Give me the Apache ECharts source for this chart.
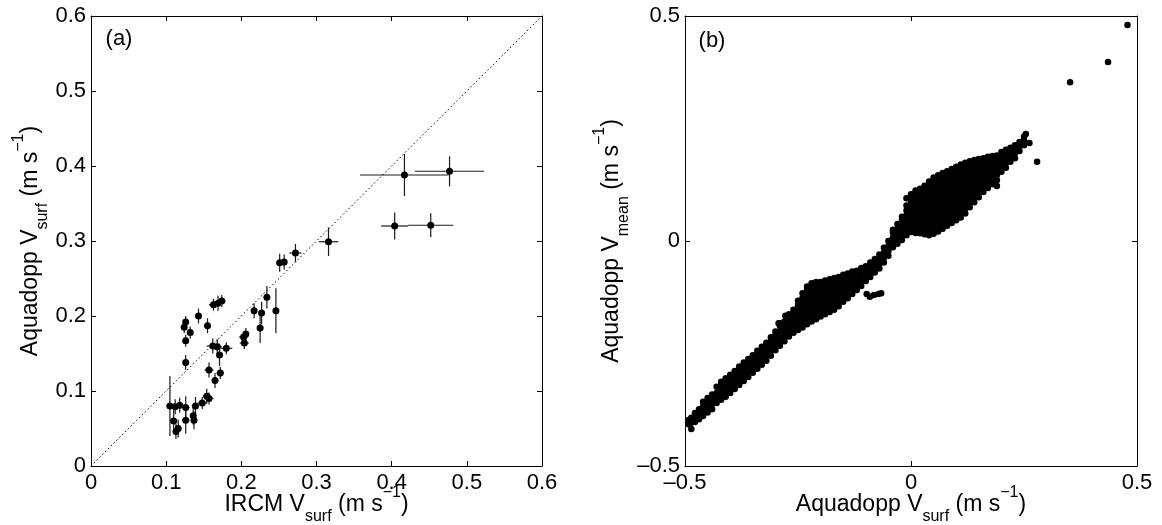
<!DOCTYPE html>
<html><head><meta charset="utf-8">
<script src="https://cdn.jsdelivr.net/npm/echarts@6/dist/echarts.min.js"></script>
<style>html,body{margin:0;padding:0;background:#fff}#c{width:1162px;height:525px}</style>
</head><body><div id="c"></div>
<script>
// ---------- Panel (a): IRCM vs Aquadopp surface velocity with error bars ----------
const ircmSurf = [0.105,0.112,0.118,0.126,0.139,0.148,0.154,0.157,0.110,0.126,0.136,0.137,0.116,0.113,
  0.165,0.157,0.172,0.171,0.162,0.168,0.180,0.204,0.203,0.206,0.126,0.126,0.132,0.124,0.126,0.143,0.155,
  0.163,0.169,0.174,0.217,0.227,0.225,0.246,0.234,0.251,0.257,0.272,0.316,0.404,0.452,0.417,0.477];
const aquaSurf = [0.080,0.079,0.081,0.078,0.080,0.084,0.093,0.090,0.060,0.061,0.067,0.061,0.050,0.046,
  0.114,0.128,0.124,0.148,0.160,0.159,0.157,0.164,0.172,0.176,0.138,0.167,0.178,0.185,0.192,0.200,0.187,
  0.215,0.217,0.220,0.207,0.204,0.184,0.207,0.225,0.271,0.272,0.284,0.299,0.320,0.321,0.388,0.393];
const ircmErr = [0.005,0.006,0.006,0.005,0.005,0.006,0.005,0.006,0.004,0.005,0.004,0.004,0.004,0.004,
  0.004,0.006,0.005,0.004,0.008,0.006,0.008,0.006,0.006,0.004,0.003,0.003,0.003,0.003,0.003,0.003,0.004,
  0.006,0.006,0.005,0.004,0.004,0.004,0.003,0.004,0.004,0.004,0.008,0.013,0.018,0.030,0.059,0.046];
const aquaErr = [0.040,0.010,0.010,0.015,0.012,0.008,0.010,0.008,0.015,0.018,0.012,0.012,0.012,0.010,
  0.010,0.010,0.008,0.015,0.010,0.010,0.008,0.008,0.006,0.008,0.010,0.008,0.008,0.008,0.008,0.010,0.010,
  0.008,0.010,0.008,0.010,0.015,0.020,0.030,0.015,0.012,0.010,0.012,0.019,0.018,0.016,0.028,0.020];
const oneToOne = [[0,0],[0.6,0.6]];
const ticksA = [0,0.1,0.2,0.3,0.4,0.5,0.6];

const vsurfCols = [-0.492,-0.486,-0.478,-0.469,-0.460,-0.450,-0.440,-0.430,-0.420,-0.410,-0.400,-0.390,-0.380,
  -0.370,-0.360,-0.350,-0.340,-0.330,-0.320,-0.310,-0.300,-0.290,-0.280,-0.270,-0.260,-0.250,-0.240,-0.230,
  -0.220,-0.210,-0.200,-0.190,-0.180,-0.170,-0.160,-0.150,-0.140,-0.130,-0.120,-0.110,-0.100,-0.090,-0.080,
  -0.070,-0.060,-0.050,-0.040,-0.030,-0.020,-0.010,0.000,0.010,0.020,0.030,0.040,0.050,0.060,0.070,0.080,
  0.090,0.100,0.110,0.120,0.130,0.140,0.150,0.160,0.170,0.180,0.190,0.200,0.210,0.220,0.230,0.240,0.250];
const vmeanCols = [
  [-0.407,-0.398],
  [-0.418,-0.404,-0.393],
  [-0.402,-0.392,-0.382],
  [-0.396,-0.385,-0.374],
  [-0.389,-0.378,-0.367,-0.357],
  [-0.381,-0.370,-0.359,-0.349],
  [-0.374,-0.363,-0.352,-0.341],
  [-0.360,-0.349,-0.338,-0.324],
  [-0.353,-0.342,-0.331,-0.320,-0.313],
  [-0.346,-0.335,-0.324,-0.313,-0.305],
  [-0.338,-0.327,-0.316,-0.305,-0.297],
  [-0.329,-0.318,-0.307,-0.296,-0.289],
  [-0.320,-0.309,-0.298,-0.287,-0.279],
  [-0.311,-0.300,-0.289,-0.278,-0.270],
  [-0.302,-0.291,-0.280,-0.269,-0.262],
  [-0.293,-0.282,-0.271,-0.260,-0.254],
  [-0.284,-0.273,-0.262,-0.251,-0.244],
  [-0.275,-0.264,-0.253,-0.242,-0.235],
  [-0.266,-0.255,-0.244,-0.233,-0.226],
  [-0.255,-0.244,-0.233,-0.222,-0.214],
  [-0.243,-0.232,-0.221,-0.210,-0.201],
  [-0.233,-0.222,-0.211,-0.200,-0.189,-0.183],
  [-0.223,-0.212,-0.201,-0.190,-0.179],
  [-0.212,-0.201,-0.190,-0.179,-0.168,-0.163],
  [-0.204,-0.193,-0.182,-0.171,-0.160,-0.153],
  [-0.198,-0.187,-0.176,-0.165,-0.154,-0.143,-0.133],
  [-0.192,-0.181,-0.170,-0.159,-0.148,-0.137,-0.126,-0.116],
  [-0.185,-0.174,-0.163,-0.152,-0.141,-0.130,-0.119,-0.108,-0.101],
  [-0.179,-0.168,-0.157,-0.146,-0.135,-0.124,-0.113,-0.102,-0.094],
  [-0.174,-0.163,-0.152,-0.141,-0.130,-0.119,-0.108,-0.097,-0.091],
  [-0.168,-0.157,-0.146,-0.135,-0.124,-0.113,-0.102,-0.091],
  [-0.163,-0.152,-0.141,-0.130,-0.119,-0.108,-0.097,-0.088],
  [-0.158,-0.147,-0.136,-0.125,-0.114,-0.103,-0.092,-0.085],
  [-0.153,-0.142,-0.131,-0.120,-0.109,-0.098,-0.088,-0.082],
  [-0.145,-0.134,-0.123,-0.112,-0.101,-0.090,-0.080],
  [-0.135,-0.124,-0.113,-0.102,-0.091,-0.082,-0.075],
  [-0.127,-0.116,-0.105,-0.094,-0.083,-0.072],
  [-0.118,-0.107,-0.096,-0.085,-0.075,-0.068],
  [-0.109,-0.098,-0.087,-0.076,-0.066],
  [-0.100,-0.089,-0.078,-0.067,-0.060],
  [-0.089,-0.078,-0.067,-0.056],
  [-0.080,-0.069,-0.058,-0.048],
  [-0.070,-0.059,-0.048,-0.040],
  [-0.061,-0.050,-0.039,-0.030],
  [-0.048,-0.037,-0.026,-0.015],
  [-0.033,-0.022,-0.011,0.000],
  [-0.014,-0.003,0.008,0.019,0.025],
  [-0.006,0.005,0.016,0.027,0.038],
  [0.002,0.013,0.024,0.035,0.046,0.054],
  [0.013,0.024,0.035,0.046,0.057,0.068,0.079,0.095],
  [0.020,0.031,0.042,0.053,0.064,0.075,0.086,0.097,0.104],
  [0.018,0.029,0.040,0.051,0.062,0.073,0.084,0.095,0.106,0.112],
  [0.017,0.028,0.039,0.050,0.061,0.072,0.083,0.094,0.105,0.116],
  [0.015,0.026,0.037,0.048,0.059,0.070,0.081,0.092,0.103,0.114,0.123],
  [0.013,0.024,0.035,0.046,0.057,0.068,0.079,0.090,0.101,0.112,0.123,0.132],
  [0.016,0.027,0.038,0.049,0.060,0.071,0.082,0.093,0.104,0.115,0.126,0.137,0.141],
  [0.021,0.032,0.043,0.054,0.065,0.076,0.087,0.098,0.109,0.120,0.131,0.142,0.146],
  [0.027,0.038,0.049,0.060,0.071,0.082,0.093,0.104,0.115,0.126,0.137,0.148,0.151],
  [0.034,0.045,0.056,0.067,0.078,0.089,0.100,0.111,0.122,0.133,0.144,0.155],
  [0.040,0.051,0.062,0.073,0.084,0.095,0.106,0.117,0.128,0.139,0.150,0.160],
  [0.046,0.057,0.068,0.079,0.090,0.101,0.112,0.123,0.134,0.145,0.156,0.165],
  [0.052,0.063,0.074,0.085,0.096,0.107,0.118,0.129,0.140,0.151,0.162,0.170],
  [0.061,0.072,0.083,0.094,0.105,0.116,0.127,0.138,0.149,0.160,0.171,0.174],
  [0.075,0.086,0.097,0.108,0.119,0.130,0.141,0.152,0.163,0.174,0.177],
  [0.086,0.097,0.108,0.119,0.130,0.141,0.152,0.163,0.174,0.180],
  [0.097,0.108,0.119,0.130,0.141,0.152,0.163,0.174,0.182],
  [0.109,0.120,0.131,0.142,0.153,0.164,0.175,0.184],
  [0.118,0.129,0.140,0.151,0.162,0.173,0.184,0.187],
  [0.126,0.137,0.148,0.159,0.170,0.181,0.189],
  [0.135,0.146,0.157,0.168,0.179,0.190],
  [0.154,0.165,0.176,0.187,0.198],
  [0.163,0.174,0.185,0.196,0.203],
  [0.176,0.187,0.198,0.207],
  [0.184,0.195,0.206,0.213],
  [0.200,0.211,0.220],
  [0.213,0.224,0.232]
];
const strayPoints = [[0.262,0.218],[0.254,0.238],[0.279,0.176],[0.352,0.353],[0.436,0.398],[0.479,0.480],
  [-0.098,-0.118],[-0.091,-0.124],[-0.082,-0.120],[-0.072,-0.118],[-0.066,-0.116],
  [-0.293,-0.183],[-0.278,-0.166],[0.005,0.099],[0.190,0.122]];
const ticksB = [-0.5,0,0.5];

// ---------- build ----------
const FONT = '"Liberation Sans", Arial, Helvetica, sans-serif';
const errData = ircmSurf.map((x,i)=>[x, aquaSurf[i], ircmErr[i], aquaErr[i]]);
const ptsA = ircmSurf.map((x,i)=>[x, aquaSurf[i]]);
const ptsB = [];
vsurfCols.forEach((x,i)=>vmeanCols[i].forEach(y=>ptsB.push([x,y])));
strayPoints.forEach(p=>ptsB.push(p));

const fmt = v => {
  const s = (Math.round(v*10)/10).toString();
  return s.replace('-', '\u2013');
};
const rich = {
  m:{fontSize:23, lineHeight:40, fontFamily:FONT, color:'#000'},
  sub:{fontSize:16, lineHeight:20, verticalAlign:'bottom', fontFamily:FONT, color:'#000'},
  sup:{fontSize:16, lineHeight:18, verticalAlign:'top', fontFamily:FONT, color:'#000'}
};
function axis(grid, pos, min, max, interval, ticks, labels, name, gap, isY){
  return {
    gridIndex:grid, type:'value', position:pos, min:min, max:max, interval:interval,
    axisLine:{show:true, onZero:false, lineStyle:{color:'#000', width:1}},
    axisTick:{show:true, inside:true, length:5, lineStyle:{color:'#000', width:1}},
    axisLabel:{show:labels, formatter:fmt, fontSize:22, fontFamily:FONT, color:'#000', margin:isY?5:6,
      showMinLabel:true, showMaxLabel:true, hideOverlap:false},
    splitLine:{show:false},
    name: name || '', nameLocation:'middle', nameGap:gap||0, nameMoveOverlap:false,
    nameRotate: isY ? 90 : 0,
    nameTextStyle:{rich:rich}
  };
}
const nameA_x = '{m|IRCM V}{sub|surf}{m| (m s}{sup|\u22121}{m|)}';
const nameA_y = '{m|Aquadopp V}{sub|surf}{m| (m s}{sup|\u22121}{m|)}';
const nameB_x = '{m|Aquadopp V}{sub|surf}{m| (m s}{sup|\u22121}{m|)}';
const nameB_y = '{m|Aquadopp V}{sub|mean}{m| (m s}{sup|\u22121}{m|)}';

const option = {
  animation:false,
  backgroundColor:'#fff',
  grid:[
    {left:91, top:16, width:451, height:450, containLabel:false, outerBoundsMode:'none'},
    {left:685, top:16, width:452, height:450, containLabel:false, outerBoundsMode:'none'}
  ],
  xAxis:[
    axis(0,'bottom',0,0.6,0.1,ticksA,true,nameA_x,19,false),
    axis(0,'top',0,0.6,0.1,ticksA,false,null,0,false),
    axis(1,'bottom',-0.5,0.5,0.5,ticksB,true,nameB_x,19,false),
    axis(1,'top',-0.5,0.5,0.5,ticksB,false,null,0,false)
  ],
  yAxis:[
    axis(0,'left',0,0.6,0.1,ticksA,true,nameA_y,40,true),
    axis(0,'right',0,0.6,0.1,ticksA,false,null,0,true),
    axis(1,'left',-0.5,0.5,0.5,ticksB,true,nameB_y,53,true),
    axis(1,'right',-0.5,0.5,0.5,ticksB,false,null,0,true)
  ],
  graphic:[
    {type:'text', x:119, y:39, style:{text:'(a)', font:'22px '+FONT, fill:'#000', align:'center', verticalAlign:'middle'}},
    {type:'text', x:712, y:41, style:{text:'(b)', font:'22px '+FONT, fill:'#000', align:'center', verticalAlign:'middle'}}
  ],
  series:[
    {type:'line', xAxisIndex:0, yAxisIndex:0, data:oneToOne, symbol:'none', silent:true,
      lineStyle:{color:'#000', width:1, type:[1.5,2.5]}},
    {type:'custom', xAxisIndex:0, yAxisIndex:0, data:errData, encode:{x:0,y:1},
      renderItem:function(params, api){
        const x=api.value(0), y=api.value(1), xe=api.value(2), ye=api.value(3);
        const l=api.coord([x-xe,y]), r=api.coord([x+xe,y]), t=api.coord([x,y+ye]), b=api.coord([x,y-ye]);
        return {type:'group', children:[
          {type:'line', shape:{x1:l[0],y1:l[1],x2:r[0],y2:r[1]}, style:{stroke:'#1a1a1a', lineWidth:1.2}},
          {type:'line', shape:{x1:t[0],y1:t[1],x2:b[0],y2:b[1]}, style:{stroke:'#1a1a1a', lineWidth:1.2}}
        ]};
      }},
    {type:'scatter', xAxisIndex:0, yAxisIndex:0, data:ptsA, symbol:'circle', symbolSize:7,
      itemStyle:{color:'#000', opacity:1}},
    {type:'scatter', xAxisIndex:2, yAxisIndex:2, data:ptsB, symbol:'circle', symbolSize:6.5,
      itemStyle:{color:'#000', opacity:1}, large:false}
  ]
};
const chart = echarts.init(document.getElementById('c'), null, {renderer:'canvas'});
chart.setOption(option);
</script>
</body></html>
